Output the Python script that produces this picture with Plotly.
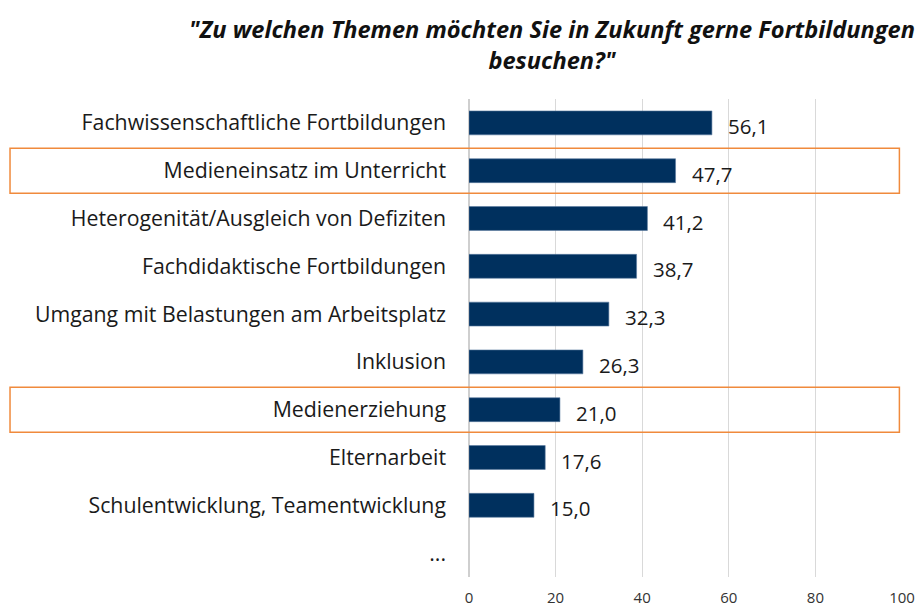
import plotly.graph_objects as go

categories = [
    "Fachwissenschaftliche Fortbildungen",
    "Medieneinsatz im Unterricht",
    "Heterogenität/Ausgleich von Defiziten",
    "Fachdidaktische Fortbildungen",
    "Umgang mit Belastungen am Arbeitsplatz",
    "Inklusion",
    "Medienerziehung",
    "Elternarbeit",
    "Schulentwicklung, Teamentwicklung",
    "...",
]
values = [56.1, 47.7, 41.2, 38.7, 32.3, 26.3, 21.0, 17.6, 15.0, None]
highlighted = ["Medieneinsatz im Unterricht", "Medienerziehung"]
x_ticks = [0, 20, 40, 60, 80, 100]
title_text = '"Zu welchen Themen möchten Sie in Zukunft gerne Fortbildungen<br>besuchen?"'

FONT = "Open Sans"

fig = go.Figure()
fig.add_trace(go.Bar(
    x=values,
    y=categories,
    orientation="h",
    width=0.5,
    marker=dict(color="#00305E", line=dict(color="#5a7aa0", width=0.6)),
    hoverinfo="skip",
))

for cat, v in zip(categories, values):
    if v is None:
        continue
    fig.add_annotation(
        x=v, y=cat, xref="x", yref="y",
        text=f"{v:.1f}".replace(".", ","),
        showarrow=False, xanchor="left", yanchor="middle",
        xshift=14, yshift=-3,
        font=dict(family=FONT, size=20.5, color="#1a1a1a"),
    )

for cat in highlighted:
    i = categories.index(cat)
    fig.add_shape(
        type="rect", xref="paper", yref="y",
        x0=-1.060, x1=0.994, y0=i - 0.47, y1=i + 0.47,
        line=dict(color="#F08A3C", width=1.5),
        fillcolor="rgba(0,0,0,0)", layer="above",
    )

fig.add_annotation(
    text=title_text, xref="paper", yref="paper",
    x=0.192, y=1.115, xanchor="center", yanchor="middle",
    showarrow=False, align="center",
    font=dict(family=FONT, size=23.6, color="#111111", weight="bold", style="italic"),
)

fig.update_layout(
    width=923, height=608,
    margin=dict(l=461, r=29, t=91, b=39, autoexpand=False),
    paper_bgcolor="white", plot_bgcolor="white",
    showlegend=False,
    font=dict(family=FONT),
)
fig.update_xaxes(
    range=[0, 100], tickvals=x_ticks, ticktext=[str(t) for t in x_ticks],
    showgrid=True, gridcolor="#d9d9d9", gridwidth=1,
    zeroline=True, zerolinecolor="#cfcfcf", zerolinewidth=2,
    showline=False, ticks="", automargin=False,
    tickfont=dict(family=FONT, size=15, color="#333333"),
    ticklabelstandoff=10,
)
fig.update_yaxes(
    categoryorder="array", categoryarray=categories,
    range=[9.5, -0.5], automargin=False,
    showgrid=False, zeroline=False, showline=False, ticks="",
    tickfont=dict(family=FONT, size=21.3, color="#1a1a1a"),
    ticklabelstandoff=22,
)

fig.write_html("out.html")
